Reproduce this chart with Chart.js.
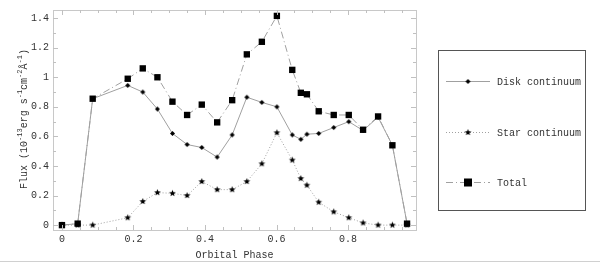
<!DOCTYPE html>
<html>
<head>
<meta charset="utf-8">
<script src="https://cdn.jsdelivr.net/npm/chart.js@4"></script>
<style>
  body { margin: 0; background: #fff; }
  #wrap { width: 600px; height: 261px; border-bottom: 1px solid #d0d0d0; }
</style>
</head>
<body>
<div id="wrap"><canvas id="fluxChart" width="600" height="261"></canvas></div>
<script>
// ========= DATA =========== //
const phase = [0, 0.044, 0.086, 0.184, 0.226, 0.267, 0.309, 0.35, 0.391, 0.434, 0.476, 0.517,
  0.559, 0.601, 0.644, 0.668, 0.685, 0.718, 0.76, 0.802, 0.842, 0.884, 0.924, 0.965];
const disk = [0, 0.01, 0.855, 0.945, 0.9, 0.785, 0.62, 0.545, 0.525, 0.46, 0.61, 0.865,
  0.83, 0.8, 0.61, 0.58, 0.615, 0.62, 0.66, 0.7, 0.64, 0.73, 0.54, 0.01];
const star = [0, 0, 0, 0.05, 0.16, 0.22, 0.215, 0.2, 0.295, 0.24, 0.24, 0.295,
  0.415, 0.625, 0.44, 0.315, 0.27, 0.155, 0.09, 0.05, 0.015, 0, 0, 0];
const total = [0, 0.01, 0.855, 0.99, 1.06, 1.0, 0.835, 0.745, 0.815, 0.695, 0.845, 1.155,
  1.24, 1.415, 1.05, 0.895, 0.885, 0.77, 0.745, 0.745, 0.645, 0.735, 0.54, 0.01];
const seriesNames = ["Disk continuum", "Star continuum", "Total"];

const FONT = "'Liberation Mono', 'Courier New', monospace";
const LINE = "#a0a0a0";
const TEXT = "#333";

// ========= MARKERS =========== //
function makeStar(r) {
  let c = document.createElement("canvas");
  c.width = c.height = r * 2 + 2;
  let g = c.getContext("2d");
  g.fillStyle = "#000";
  g.beginPath();
  for (let i = 0; i < 10; i++) {
    let rad = i % 2 ? r * 0.45 : r;
    let a = -Math.PI / 2 + (i * Math.PI) / 5;
    g.lineTo(r + 1 + rad * Math.cos(a), r + 1 + rad * Math.sin(a));
  }
  g.closePath();
  g.fill();
  return c;
}
function makeDiamond(r) {
  let c = document.createElement("canvas");
  c.width = c.height = r * 2 + 2;
  let g = c.getContext("2d");
  g.fillStyle = "#000";
  g.beginPath();
  g.moveTo(r + 1, 1);
  g.lineTo(r * 2 + 1, r + 1);
  g.lineTo(r + 1, r * 2 + 1);
  g.lineTo(1, r + 1);
  g.closePath();
  g.fill();
  return c;
}
const starImg = makeStar(3.5);
const diamondImg = makeDiamond(2.5);

function pts(values) {
  return phase.map((p, i) => ({ x: p, y: values[i] }));
}

// ========= FRAME + TICKS + LEGEND PLUGIN =========== //
const framePlugin = {
  id: "frame",
  afterDraw(chart) {
    const { ctx, chartArea: a, scales } = chart;
    ctx.save();
    ctx.strokeStyle = "#c8c8c8";
    ctx.lineWidth = 1;
    ctx.strokeRect(a.left + 0.5, a.top + 0.5, a.right - a.left, a.bottom - a.top);
    ctx.strokeStyle = "#c0c0c0";
    ctx.beginPath();
    for (let v = 0; v <= 0.96; v += 0.05) {
      let x = Math.round(scales.x.getPixelForValue(v)) + 0.5;
      let len = Math.abs(v / 0.2 - Math.round(v / 0.2)) < 0.01 ? 5 : 3;
      ctx.moveTo(x, a.bottom);
      ctx.lineTo(x, a.bottom - len);
      ctx.moveTo(x, a.top);
      ctx.lineTo(x, a.top + len);
    }
    for (let v = 0; v <= 1.41; v += 0.1) {
      let y = Math.round(scales.y.getPixelForValue(v)) + 0.5;
      let len = Math.abs(v / 0.2 - Math.round(v / 0.2)) < 0.01 ? 5 : 3;
      ctx.moveTo(a.left, y);
      ctx.lineTo(a.left + len, y);
      ctx.moveTo(a.right, y);
      ctx.lineTo(a.right - len, y);
    }
    ctx.stroke();

    // y axis title with superscripts
    const parts = [
      ["Flux (10", 0], ["-13", 1], ["erg s", 0], ["-1", 1], ["cm", 0], ["-2", 1], ["\u00c5", 0], ["-1", 1], [")", 0],
    ];
    const big = "10px " + FONT, small = "7px " + FONT;
    let w = 0;
    parts.forEach(([t, s]) => { ctx.font = s ? small : big; w += ctx.measureText(t).width; });
    ctx.translate(24, 119);
    ctx.rotate(-Math.PI / 2);
    ctx.fillStyle = TEXT;
    ctx.textBaseline = "middle";
    let x = -w / 2;
    parts.forEach(([t, s]) => {
      ctx.font = s ? small : big;
      ctx.fillText(t, x, s ? -4 : 0);
      x += ctx.measureText(t).width;
    });
    ctx.restore();

    // legend box
    ctx.save();
    ctx.strokeStyle = "#555";
    ctx.strokeRect(438.5, 50.5, 147, 160);
    const rows = [
      { y: 81, dash: [], img: diamondImg },
      { y: 132, dash: [1, 2], img: starImg },
      { y: 182, dash: [7, 3, 1, 3], img: "rect" },
    ];
    rows.forEach((r, i) => {
      ctx.strokeStyle = LINE;
      ctx.setLineDash(r.dash);
      ctx.beginPath();
      ctx.moveTo(446, r.y + 0.5);
      ctx.lineTo(490, r.y + 0.5);
      ctx.stroke();
      ctx.setLineDash([]);
      if (r.img === "rect") {
        ctx.fillStyle = "#000";
        ctx.fillRect(464, r.y - 3.5, 8, 8);
      } else {
        ctx.drawImage(r.img, 468 - r.img.width / 2, r.y + 0.5 - r.img.height / 2);
      }
      ctx.fillStyle = TEXT;
      ctx.font = "10px " + FONT;
      ctx.textBaseline = "middle";
      ctx.fillText(seriesNames[i], 497, r.y + 1);
    });
    ctx.restore();
  },
};

// ========= CHART =========== //
let flux = document.getElementById("fluxChart").getContext("2d");

let fluxChart = new Chart(flux, {
  type: "line",
  data: {
    datasets: [
      {
        label: seriesNames[0],
        data: pts(disk),
        borderColor: LINE,
        borderWidth: 1,
        pointStyle: diamondImg,
        order: 2,
      },
      {
        label: seriesNames[1],
        data: pts(star),
        borderColor: LINE,
        borderWidth: 1,
        borderDash: [1, 2],
        pointStyle: starImg,
        order: 3,
      },
      {
        label: seriesNames[2],
        data: pts(total),
        borderColor: LINE,
        borderWidth: 1,
        borderDash: [7, 3, 1, 3],
        pointStyle: "rect",
        pointRadius: 4.5,
        pointBackgroundColor: "#000",
        pointBorderColor: "#000",
        pointBorderWidth: 0,
        order: 1,
      },
    ],
  },
  options: {
    responsive: false,
    animation: false,
    layout: { padding: { top: 6, right: 184, left: 0, bottom: 0 } },
    plugins: {
      legend: { display: false },
      tooltip: { enabled: false },
    },
    elements: { line: { tension: 0 } },
    scales: {
      x: {
        type: "linear",
        min: -0.025,
        max: 0.99,
        grid: { display: false, drawTicks: false },
        border: { display: false },
        ticks: {
          stepSize: 0.2,
          includeBounds: false,
          padding: 3,
          color: TEXT,
          font: { family: FONT, size: 10 },
          callback: (v) => String(Number(v.toFixed(1))),
        },
        title: {
          display: true,
          text: "Orbital Phase",
          color: TEXT,
          font: { family: FONT, size: 10 },
          padding: { top: 8, bottom: 0 },
        },
        afterFit(s) { s.height = 31; },
      },
      y: {
        min: -0.033,
        max: 1.455,
        grid: { display: false, drawTicks: false },
        border: { display: false },
        ticks: {
          stepSize: 0.2,
          includeBounds: false,
          padding: 4,
          color: TEXT,
          font: { family: FONT, size: 10 },
          callback: (v) => String(Number(v.toFixed(1))),
        },
        afterFit(s) { s.width = 53; },
      },
    },
  },
  plugins: [framePlugin],
});
</script>
</body>
</html>
